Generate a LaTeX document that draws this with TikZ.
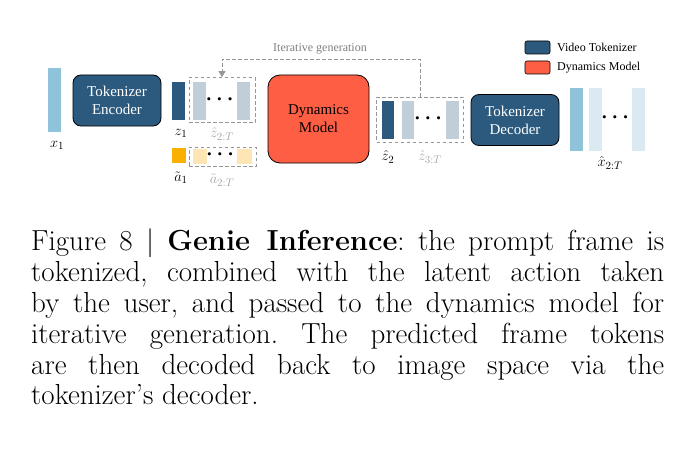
\documentclass[tikz,border=0pt]{standalone}
\usepackage{fontspec}
\usepackage{amsmath,bm}
\newfontfamily\figfont{Liberation Serif}
\usetikzlibrary{arrows.meta}

\definecolor{tokblue}{RGB}{44,90,126}
\definecolor{dynred}{RGB}{254,94,68}
\definecolor{frameblue}{RGB}{142,195,218}
\definecolor{paleblue}{RGB}{219,234,242}
\definecolor{latgray}{RGB}{193,205,216}
\definecolor{actorange}{RGB}{250,176,0}
\definecolor{paleorange}{RGB}{253,229,180}
\definecolor{dashgray}{RGB}{150,150,150}

\tikzset{
  modbox/.style={draw=black, line width=0.8pt, align=center, inner sep=0pt,
    font=\figfont\fontsize{15}{18}\selectfont},
  tokbox/.style={modbox, fill=tokblue, text=white, rounded corners=8pt,
    minimum width=88pt, minimum height=51pt},
  tokbar/.style={inner sep=0pt, minimum width=13pt, minimum height=38pt},
  actsq/.style={inner sep=0pt, minimum width=14pt, minimum height=15pt},
  framebar/.style={inner sep=0pt, minimum width=13pt, minimum height=63pt},
  dashbox/.style={draw=dashgray, line width=0.8pt, dash pattern=on 3.5pt off 2.5pt, inner sep=0pt},
  dotsnode/.style={inner sep=0pt, font=\fontsize{20}{20}\selectfont},
  mathlbl/.style={inner sep=0pt, font=\fontsize{15}{15}\selectfont},
  swatch/.style={draw=black, line width=0.6pt, rounded corners=2pt, inner sep=0pt,
    minimum width=25pt, minimum height=13pt},
  legtext/.style={anchor=west, inner sep=0pt, font=\figfont\fontsize{12}{12}\selectfont}
}

\begin{document}
\begin{tikzpicture}[x=1pt,y=-1pt]
\useasboundingbox[fill=white] (0,0) rectangle (688,460);
%legende
\node[swatch, fill=tokblue] (legtok) at (537.5,47.5) {};
\node[legtext] (legtoktxt) at (557,47.5) {Video Tokenizer};
\node[swatch, fill=dynred] (legdyn) at (537.5,67.5) {};
\node[legtext] (legdyntxt) at (557,67.5) {Dynamics Model};
%prompt frame
\node[framebar, fill=frameblue] (x1) at (54.5,100) {};
\node[mathlbl] (x1lbl) at (57,145) {$x_1$};
\node[tokbox] (enc) at (117,100.5) {Tokenizer\\Encoder};
%latents
\node[tokbar, fill=tokblue] (z1) at (178.5,100.5) {};
\node[dashbox, minimum width=66pt, minimum height=45pt] (zbox) at (222,100) {};
\node[tokbar, fill=latgray] (zg1) at (199.5,101) {};
\node[tokbar, fill=latgray] (zg2) at (243.5,101) {};
\node[dotsnode] (zdots) at (221.5,100) {$\bm{\cdots}$};
\node[mathlbl] (z1lbl) at (181,133) {$z_1$};
\node[mathlbl, text=gray!70] (zlbl) at (222,134) {$\hat{z}_{2:T}$};
%actions
\node[actsq, fill=actorange] (a1) at (179,155.5) {};
\node[dashbox, minimum width=67pt, minimum height=19pt] (abox) at (222.5,156.5) {};
\node[actsq, fill=paleorange] (ag1) at (200,156) {};
\node[actsq, fill=paleorange, minimum width=15pt] (ag2) at (244.5,156) {};
\node[dotsnode] (adots) at (222,155) {$\bm{\cdots}$};
\node[mathlbl] (a1lbl) at (181,178) {$\tilde{a}_1$};
\node[mathlbl, text=gray!70] (albl) at (222,180) {$\tilde{a}_{2:T}$};
%dynamics
\node[modbox, fill=dynred, rounded corners=12pt, minimum width=101pt, minimum height=88pt] (dyn) at (318.5,119) {Dynamics\\Model};
%predicted latents
\node[dashbox, minimum width=87pt, minimum height=45pt] (zhbox) at (420,119.5) {};
\node[tokbar, fill=tokblue, minimum width=12pt] (zh2) at (388,120) {};
\node[tokbar, fill=latgray, minimum width=12pt] (zh3) at (408,120) {};
\node[tokbar, fill=latgray] (zhT) at (452.5,120) {};
\node[dotsnode] (zhdots) at (430,119) {$\bm{\cdots}$};
\node[mathlbl] (zh2lbl) at (388,157) {$\hat{z}_2$};
\node[mathlbl, text=gray!70] (zhlbl) at (430,157) {$\hat{z}_{3:T}$};
%iterative generation
\coordinate (itr) at (zhbox.north |- 0,59);
\coordinate (itl) at (zbox.north |- 0,59);
\draw[dashgray, line width=0.8pt, dash pattern=on 3.5pt off 2.5pt, -{Triangle[width=7pt,length=6pt]}]
  (zhbox.north) -- (itr) -- (itl) -- (zbox.north);
\node[inner sep=0pt, text=gray, font=\figfont\fontsize{12}{12}\selectfont] (itlbl) at (320,49) {Iterative generation};
%decoder
\node[tokbox] (dec) at (515,120) {Tokenizer\\Decoder};
\node[framebar, fill=frameblue] (xo1) at (576.5,119) {};
\node[framebar, fill=paleblue] (xo2) at (595.5,119) {};
\node[framebar, fill=paleblue] (xo3) at (638.5,119) {};
\node[dotsnode] (xdots) at (617,118) {$\bm{\cdots}$};
\node[mathlbl] (xlbl) at (610,163) {$\hat{x}_{2:T}$};
%legende figure
\node[anchor=north west, inner sep=0pt, text width=633pt, align=justify,
  font=\fontsize{29}{30.8}\selectfont\frenchspacing] (caption) at (31,229) {Figure 8 | \textbf{Genie Inference}: the prompt frame is\linebreak
tokenized, combined with the latent action taken\linebreak
by the user, and passed to the dynamics model for\linebreak
iterative generation. The predicted frame tokens\linebreak
are then decoded back to image space via the\linebreak
tokenizer’s decoder.};
\end{tikzpicture}
\end{document}
